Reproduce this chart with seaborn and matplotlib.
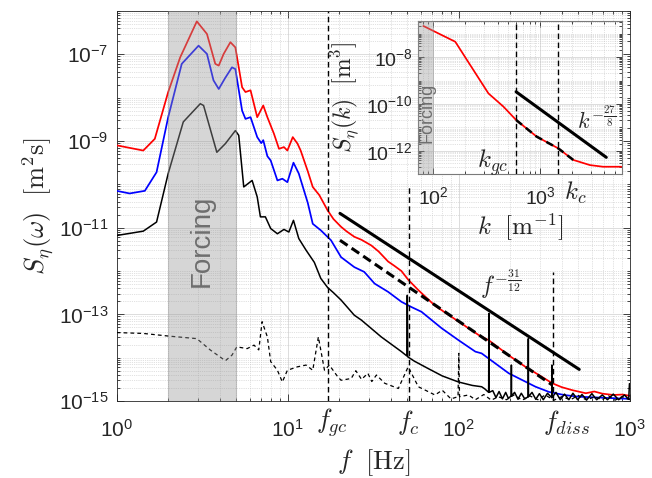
import numpy as np
import matplotlib
matplotlib.use('Agg')
import matplotlib.pyplot as plt
import matplotlib.ticker as mticker
import seaborn as sns

# ---- main spectra, f in Hz, values are log10 of S_eta(omega) ----
red_f = [1, 1.43, 1.67, 2.0, 2.35, 2.94, 3.37, 3.77, 3.95, 4.22, 4.62, 4.94, 5.41, 5.66, 6.06,
         6.63, 7.19, 7.6, 8.3, 8.89, 9.5, 9.95, 10.7, 11.4, 11.9, 13.1, 14.0, 15.3, 17.1, 18.5,
         20.5, 22, 24.5, 27, 30.8, 34, 38.6, 42, 46.2, 50.6, 58, 72.6, 100, 131, 150, 200, 245,
         300, 352, 400, 462, 553, 620, 692, 800, 909, 1000]
red_logS = [-9.10, -9.22, -8.95, -7.87, -7.07, -6.24, -6.53, -7.22, -7.26, -6.99, -6.72, -6.84,
            -7.76, -7.87, -7.83, -8.45, -8.18, -8.45, -8.83, -9.18, -9.14, -9.22, -8.91, -9.06,
            -9.22, -9.70, -10.06, -10.25, -10.60, -10.80, -10.98, -11.08, -11.21, -11.28, -11.41,
            -11.55, -11.78, -11.88, -12.00, -12.20, -12.44, -12.80, -13.17, -13.48, -13.60,
            -13.97, -14.21, -14.42, -14.59, -14.68, -14.75, -14.82, -14.78, -14.83, -14.86,
            -14.85, -14.88]

blue_f = [1, 1.19, 1.46, 1.71, 2.0, 2.4, 3.01, 3.37, 3.68, 3.95, 4.3, 4.72, 4.94, 5.41, 5.66,
          6.06, 6.63, 7.0, 7.19, 7.6, 7.95, 8.7, 9.3, 9.95, 10.8, 11.6, 13.1, 14.0, 15.6, 17.9,
          20.5, 24.5, 28, 32.2, 38.6, 46.2, 52.8, 60.5, 79.4, 100, 125, 136, 196, 281, 337, 412,
          500, 1000]
blue_logS = [-10.15, -10.21, -10.15, -9.72, -8.45, -7.22, -6.80, -6.99, -7.60, -7.80, -7.55,
             -7.30, -7.34, -8.30, -8.49, -8.45, -8.91, -9.05, -8.98, -9.35, -9.45, -9.91, -9.87,
             -9.95, -9.50, -9.75, -10.43, -10.91, -11.06, -11.29, -11.68, -11.91, -12.02,
             -12.29, -12.48, -12.71, -12.83, -12.94, -13.32, -13.60, -13.86, -13.90, -14.36,
             -14.67, -14.79, -14.86, -14.90, -14.95]

black_f = [1, 1.43, 1.71, 2.0, 2.45, 3.08, 3.22, 3.85, 4.32, 4.94, 5.17, 5.53, 6.19, 6.63, 6.92,
           7.4, 7.95, 8.7, 9.5, 10.15, 10.8, 11.6, 12.8, 14.3, 15.6, 17.1, 18.5, 20.5, 24.5,
           26.9, 35.2, 46.2, 49.7, 50.0, 50.3, 55, 66.2, 80, 99.5, 120,
           136, 142, 149.5, 150, 150.5, 158, 165, 172, 180, 188, 195, 202.5, 203, 203.5,
           212, 222, 232, 243, 254.5, 255, 255.5, 268, 282, 296, 312, 330, 349.5, 350, 350.5,
           370, 392, 415, 440, 465, 495, 525, 560, 600, 640, 690, 740, 800, 860, 930, 985,
           995, 1000]
black_logS = [-11.18, -11.08, -10.87, -9.75, -8.56, -8.14, -8.18, -9.26, -9.06, -8.76, -8.87,
              -10.06, -9.91, -10.29, -10.75, -10.75, -11.02, -11.14, -11.04, -11.10, -10.83,
              -11.25, -11.52, -11.80, -12.17, -12.38, -12.50, -12.67, -13.02, -13.13, -13.52,
              -13.86, -13.96, -12.56, -13.98, -14.08, -14.25, -14.42, -14.56, -14.64,
              -14.67, -14.72, -14.80, -12.98, -14.80, -14.76, -14.92, -14.78, -14.95, -14.80,
              -14.94, -14.88, -14.17, -14.88, -14.80, -14.96, -14.82, -14.95, -14.90, -13.56,
              -14.90, -14.80, -14.96, -14.83, -14.97, -14.82, -14.92, -14.17, -14.92, -14.80,
              -14.97, -14.84, -14.97, -14.82, -14.97, -14.85, -14.97, -14.83, -14.97, -14.86,
              -14.97, -14.84, -14.97, -14.86, -14.96, -14.60, -14.60]

noise_f = [1, 1.43, 2.0, 2.94, 3.52, 4.32, 4.72, 5.04, 5.79, 6.35, 6.77, 7.08, 7.6, 7.95, 8.7,
           9.3, 9.95, 11.4, 12.8, 14.0, 15.1, 16.4, 17.5, 19.6, 20.5, 23.5, 25, 27, 29.4, 31, 33,
           36.9, 44.3, 50.6, 58, 72.6, 80, 90, 99, 100, 101, 114, 125, 140, 155, 170, 190, 210,
           235, 260, 290, 320, 360, 400, 450, 500, 560, 620, 690, 750, 820, 900, 1000]
noise_logS = [-13.42, -13.44, -13.50, -13.56, -13.82, -14.07, -13.94, -13.75, -13.79, -13.71,
              -13.82, -13.17, -13.52, -14.09, -14.29, -14.56, -14.29, -14.21, -14.17, -14.29,
              -13.52, -14.29, -14.17, -14.44, -14.52, -14.48, -14.30, -14.50, -14.36, -14.55,
              -14.40, -14.59, -14.71, -14.21, -14.67, -14.86, -14.75, -14.95, -14.90, -13.90,
              -14.90, -14.86, -14.97, -14.85, -14.98, -14.90, -14.97, -14.86, -14.98, -14.88,
              -14.97, -14.86, -14.98, -14.90, -14.97, -14.87, -14.98, -14.90, -14.97, -14.88,
              -14.98, -14.90, -14.97]

# power-law guides (endpoints)
fit_f = [20.2, 506]
fit_logS = [-10.67, -14.27]
fit2_f = [20.2, 352]
fit2_logS = [-11.29, -14.63]

f_gc, f_c, f_diss = 17.2, 51.0, 356.0
f_c_top, f_diss_top = -10.02, -12.03  # log10 of where those dashed markers stop
forcing_band = (2.0, 5.0)

# ---- inset: wavenumber spectrum ----
k_vals = [81, 161, 222, 329, 454, 597, 931, 1483, 2046, 2931, 3890, 5754]
k_logS = [-6.68, -7.35, -8.34, -9.55, -10.11, -10.68, -11.39, -11.89, -12.38, -12.60, -12.67, -12.67]
kfit_k = [597, 4169]
kfit_logS = [-9.48, -12.27]
k_gc, k_c = 597, 1470
k_forcing = (72, 100)

sns.set_theme(style='ticks')
plt.rcParams['font.family'] = ['Liberation Sans', 'DejaVu Sans']
plt.rcParams['mathtext.fontset'] = 'cm'

axcol = '#262626'
fig = plt.figure(figsize=(6.52, 4.78), dpi=100)
ax = fig.add_axes([0.179, 0.161, 0.787, 0.816])
ax.set_xscale('log')
ax.set_yscale('log')

for f, ls_, col, lw in [(red_f, red_logS, '#ff0000', 1.25),
                        (blue_f, blue_logS, '#0000ff', 1.25),
                        (black_f, black_logS, 'black', 1.1)]:
    sns.lineplot(x=f, y=10.0 ** np.array(ls_), color=col, lw=lw, estimator=None,
                 sort=False, ax=ax, zorder=3)

sns.lineplot(x=noise_f, y=10.0 ** np.array(noise_logS), color='black', lw=0.9,
             estimator=None, sort=False, ax=ax, zorder=3)
ax.get_lines()[-1].set_dashes([3, 2.5])

ax.plot(fit_f, 10.0 ** np.array(fit_logS), color='black', lw=2.2, zorder=4)
ax.plot(fit2_f, 10.0 ** np.array(fit2_logS), color='black', lw=2.2, ls=(0, (3, 1.6)), zorder=4)

ax.axvspan(*forcing_band, facecolor=(0.6, 0.6, 0.6), alpha=0.4, edgecolor='#888888', lw=0.8,
           zorder=5)
ax.text(np.sqrt(forcing_band[0] * forcing_band[1]), 5e-12, 'Forcing', rotation=90,
        ha='center', va='center', fontsize=20, color='#6e6e6e', zorder=6)

dash = (0, (4, 2.5))
ax.plot([f_gc, f_gc], [1e-15, 1e-6], color='black', lw=1.0, ls=dash, zorder=4)
ax.plot([f_c, f_c], [1e-15, 10 ** f_c_top], color='black', lw=1.0, ls=dash, zorder=4)
ax.plot([f_diss, f_diss], [1e-15, 10 ** f_diss_top], color='black', lw=1.0, ls=dash, zorder=4)

ax.set_xlim(1, 1000)
ax.set_ylim(1e-15, 1e-6)
ax.xaxis.set_major_locator(mticker.FixedLocator([1, 10, 100, 1000]))
ax.yaxis.set_major_locator(mticker.FixedLocator([1e-15, 1e-13, 1e-11, 1e-9, 1e-7]))
ax.xaxis.set_minor_locator(mticker.LogLocator(base=10, subs=np.arange(1, 10), numticks=40))
ax.yaxis.set_minor_locator(mticker.LogLocator(base=10, subs=np.arange(1, 10), numticks=40))
ax.xaxis.set_minor_formatter(mticker.NullFormatter())
ax.yaxis.set_minor_formatter(mticker.NullFormatter())
ax.grid(True, which='major', color='#dcdcdc', lw=0.7, ls='-')
ax.grid(True, which='minor', color='#c4c4c4', lw=0.5, ls=':')
ax.tick_params(which='both', direction='in', top=True, right=True, colors=axcol,
               labelsize=15, width=0.6)
ax.tick_params(which='major', length=5)
ax.tick_params(which='minor', length=2.5)
ax.tick_params(axis='x', which='major', pad=13)
ax.tick_params(axis='y', which='major', pad=6)
for s in ax.spines.values():
    s.set_color(axcol)
    s.set_linewidth(0.6)

ax.text(-0.154, 0.5, r'$S_\eta(\omega)\ \ [\mathrm{m^2s}]$', transform=ax.transAxes,
        rotation=90, ha='center', va='center', fontsize=19, color=axcol)
ax.text(0.5, -0.159, r'$f\ \ [\mathrm{Hz}]$', transform=ax.transAxes,
        ha='center', va='center', fontsize=19, color=axcol)

btrans = ax.get_xaxis_transform()
ax.text(18.2, -0.056, r'$f_{gc}$', transform=btrans, ha='center', va='center', fontsize=19)
ax.text(f_c, -0.056, r'$f_c$', transform=btrans, ha='center', va='center', fontsize=19)
ax.text(426, -0.056, r'$f_{diss}$', transform=btrans, ha='center', va='center', fontsize=19)
ax.text(175, 10 ** -12.3, r'$f^{-\frac{31}{12}}$', ha='center', va='center', fontsize=17)

# ---- inset ----
axin = fig.add_axes([0.641, 0.636, 0.313, 0.320])
axin.set_xscale('log')
axin.set_yscale('log')
axin.set_facecolor('white')

sns.lineplot(x=k_vals, y=10.0 ** np.array(k_logS), color='#ff0000', lw=1.25, estimator=None,
             sort=False, ax=axin, zorder=3)
kk = np.array(k_vals)
sel = (kk >= k_gc) & (kk <= 2046)
axin.plot(kk[sel], 10.0 ** np.array(k_logS)[sel], color='black', lw=1.8, ls=(0, (3, 2)),
          zorder=4)
axin.plot(kfit_k, 10.0 ** np.array(kfit_logS), color='black', lw=2.2, zorder=4)
axin.axvline(k_gc, color='black', lw=1.0, ls=dash, zorder=4)
axin.axvline(k_c, color='black', lw=1.0, ls=dash, zorder=4)
axin.axvspan(*k_forcing, facecolor=(0.6, 0.6, 0.6), alpha=0.4, edgecolor='#888888', lw=0.6,
             zorder=5)
axin.text(0.044, 0.40, 'Forcing', transform=axin.transAxes, rotation=90, ha='center',
          va='center', fontsize=13, color='#6e6e6e', zorder=6)

axin.set_xlim(72, 5850)
axin.set_ylim(1.05e-13, 3.4e-7)
axin.xaxis.set_major_locator(mticker.FixedLocator([100, 1000]))
axin.yaxis.set_major_locator(mticker.FixedLocator([1e-12, 1e-10, 1e-8]))
axin.xaxis.set_minor_locator(mticker.LogLocator(base=10, subs=np.arange(1, 10), numticks=40))
axin.yaxis.set_minor_locator(mticker.LogLocator(base=10, subs=np.arange(1, 10), numticks=40))
axin.xaxis.set_minor_formatter(mticker.NullFormatter())
axin.yaxis.set_minor_formatter(mticker.NullFormatter())
axin.grid(True, which='major', color='#dcdcdc', lw=0.7, ls='-')
axin.grid(True, which='minor', color='#c4c4c4', lw=0.5, ls=':')
axin.tick_params(which='both', direction='in', top=True, right=True, colors=axcol,
                 labelsize=14, width=0.6)
axin.tick_params(which='major', length=4)
axin.tick_params(which='minor', length=2)
axin.tick_params(axis='x', which='major', pad=9)
axin.tick_params(axis='y', which='major', pad=4)
for s in axin.spines.values():
    s.set_color('#7a7a7a')
    s.set_linewidth(0.8)

axin.text(-0.36, 0.50, r'$S_\eta(k)\ \ [\mathrm{m^3}]$', transform=axin.transAxes, rotation=90,
          ha='center', va='center', fontsize=17, color=axcol)
axin.text(0.5, -0.346, r'$k\ \ [\mathrm{m^{-1}}]$', transform=axin.transAxes, ha='center',
          va='center', fontsize=18, color=axcol)
axin.text(0.363, 0.072, r'$k_{gc}$', transform=axin.transAxes, ha='center', va='center',
          fontsize=18)
axin.text(0.77, -0.124, r'$k_c$', transform=axin.transAxes, ha='center', va='center',
          fontsize=18)
axin.text(0.877, 0.353, r'$k^{-\frac{27}{8}}$', transform=axin.transAxes, ha='center',
          va='center', fontsize=16)

fig.savefig('out.png', dpi=100)
